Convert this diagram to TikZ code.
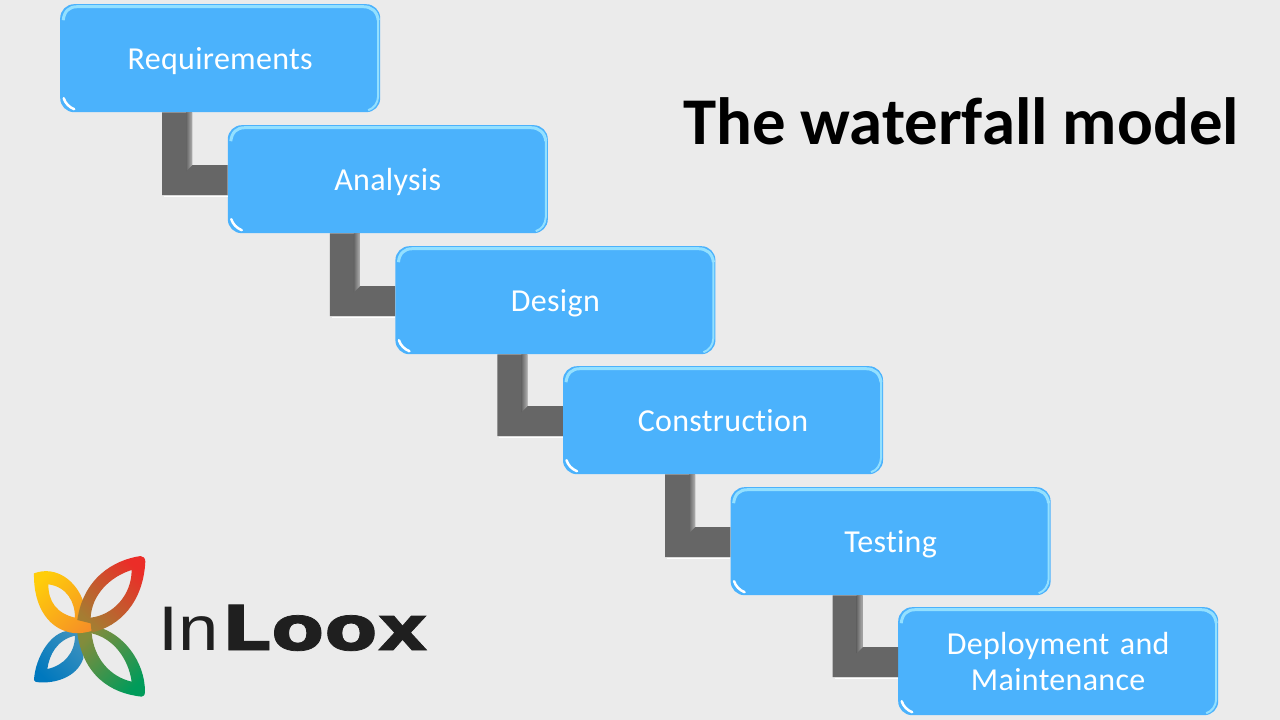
\documentclass[tikz,border=0pt]{standalone}
\usepackage{fontspec}
\usetikzlibrary{calc}
\setmainfont{Carlito}
\newfontfamily\boxfont{Carlito}[LetterSpace=1,Ligatures=NoCommon]
\newfontfamily\logothin{Liberation Sans}
\newfontfamily\logoheavy{DejaVu Sans}[BoldFeatures={FakeBold=1.2}]
\definecolor{pagebg}{HTML}{EBEBEB}
\definecolor{boxblue}{HTML}{4BB2FC}
\definecolor{boxlight}{HTML}{93E0FF}
\definecolor{pipegray}{HTML}{666666}
\definecolor{pipelight}{HTML}{B0B0B0}
\tikzset{
  stagebox/.style={rounded corners=14pt, fill=boxblue, minimum width=320pt, minimum height=108pt,
    inner sep=0pt, anchor=north west, text=white, align=center, font=\boxfont\fontsize{32}{36}\selectfont,
    path picture={
      \coordinate (nw) at (path picture bounding box.north west);
      \coordinate (se) at (path picture bounding box.south east);
      \coordinate (ne) at (nw -| se);
      \coordinate (sw) at (nw |- se);
      \draw[boxlight, line width=3pt, sharp corners]
        ($(nw)+(3,16)$) .. controls ($(nw)+(4,7)$) and ($(nw)+(9,2.5)$) .. ($(nw)+(17,2.5)$)
        -- ($(ne)+(-17,2.5)$) .. controls ($(ne)+(-9,2.5)$) and ($(ne)+(-3,7)$) .. ($(ne)+(-2,16)$);
      \draw[boxlight, line width=2pt, sharp corners]
        ($(ne)+(-2,14)$) -- ($(se)+(-2,-16)$) .. controls ($(se)+(-2.5,-9)$) and ($(se)+(-6,-4)$) .. ($(se)+(-12,-2)$);
      \draw[white, line width=2.5pt, line cap=round, sharp corners]
        ($(sw)+(3.5,-14)$) .. controls ($(sw)+(5,-9)$) and ($(sw)+(9,-5)$) .. ($(sw)+(14,-3)$);
    }},
  oneline/.style={text height=22pt, text depth=0pt},
  pipeshadow/.style={white, line width=1.2pt},
  logotext/.style={inner sep=0pt, anchor=base west, text=black!88}
}
\newcommand{\stair}[2]{% from the lower edge of one box to the left edge of the next
  \coordinate (pa) at ($(#1.south west)+(102.2,0)$);
  \coordinate (pb) at ($(#1.south west)+(132.2,0)$);
  \coordinate (pc) at ($(pb |- #2.west)+(0,-14)$);
  \coordinate (pd) at ($(#2.west)+(0,-14)$);
  \coordinate (pe) at ($(#2.west)+(0,16)$);
  \coordinate (pf) at ($(pa |- #2.west)+(0,16)$);
  \fill[pipegray] (pa) -- (pb) -- (pc) -- (pd) -- (pe) -- (pf) -- cycle;
  \shade[left color=pipegray, right color=pipelight, shading angle=90] ($(pb)+(-6,0)$) -- (pb) -- (pc) -- ($(pc)+(-6,6)$) -- cycle;
  \draw[pipeshadow] ($(pf)+(2,1)$) -- ($(pe)+(0,1)$);
}
\begin{document}
\begin{tikzpicture}[x=1pt,y=-1pt]
\useasboundingbox (0,0) rectangle (1280,720);
\fill[pagebg] (0,0) rectangle (1280,720);
\node[stagebox,oneline] (req) at (60,4) {Requirements};
\node[stagebox,oneline] (ana) at (227.6,125) {Analysis};
\node[stagebox,oneline] (des) at (395.2,246) {Design};
\node[stagebox,oneline] (con) at (562.8,366) {Construction};
\node[stagebox,oneline] (tes) at (730.4,487) {Testing};
\node[stagebox] (dep) at (898,607) {Deployment\hspace{3pt} and\\Maintenance};
\stair{req}{ana}
\stair{ana}{des}
\stair{des}{con}
\stair{con}{tes}
\stair{tes}{dep}
\node[inner sep=0pt, anchor=base west, font=\fontsize{66.8}{72}\selectfont\bfseries] (title) at (683,144.5) {The waterfall model};
% logo
\begin{scope}[shift={(20,545)},x=0.3333pt,y=-0.3333pt]
\shade[even odd rule, top color={rgb,255:red,60;green,145;blue,190}, middle color={rgb,255:red,0;green,122;blue,190}, bottom color={rgb,255:red,0;green,120;blue,190}, shading angle=-45]
  (42,405) .. controls (45,340) and (95,245) .. (165,258) -- (190,262) -- (190,340) .. controls (170,400) and (100,415) .. (60,412) .. controls (50,412) and (42,410) .. (42,405) -- cycle
  (165,272) .. controls (110,285) and (88,330) .. (82,372) .. controls (130,362) and (165,325) .. (165,272) -- cycle;
\shade[even odd rule, top color={rgb,255:red,130;green,140;blue,60}, middle color={rgb,255:red,20;green,150;blue,85}, bottom color={rgb,255:red,0;green,155;blue,90}, shading angle=45]
  (230,245) .. controls (310,265) and (375,350) .. (375,440) .. controls (375,450) and (370,455) .. (365,455) .. controls (270,445) and (190,390) .. (172,265) -- cycle
  (215,265) .. controls (280,280) and (325,340) .. (335,410) .. controls (270,395) and (222,340) .. (215,265) -- cycle;
\shade[even odd rule, top color={rgb,255:red,255;green,205;blue,10}, bottom color={rgb,255:red,245;green,140;blue,40}, shading angle=45]
  (42,85) .. controls (110,60) and (170,110) .. (190,170) -- (212,225) -- (270,226) -- (215,258) .. controls (190,265) and (170,265) .. (160,264) .. controls (90,255) and (40,190) .. (42,85) -- cycle
  (85,118) .. controls (140,125) and (165,170) .. (165,218) .. controls (110,205) and (85,170) .. (85,118) -- cycle;
\shade[even odd rule, top color={rgb,255:red,165;green,125;blue,50}, middle color={rgb,255:red,225;green,60;blue,40}, bottom color={rgb,255:red,235;green,45;blue,40}, shading angle=135]
  (362,33) .. controls (280,45) and (190,100) .. (172,225) -- (212,235) -- (215,262) .. controls (300,245) and (370,170) .. (376,50) .. controls (376,40) and (370,33) .. (362,33) -- cycle
  (335,75) .. controls (270,95) and (215,150) .. (212,218) .. controls (280,210) and (335,150) .. (335,75) -- cycle;
\end{scope}
\node[logotext, font=\logothin\fontsize{63}{63}\selectfont, xscale=1.15] (logoin) at (158,650) {In};
\node[logotext, font=\logoheavy\bfseries\fontsize{62}{62}\selectfont, xscale=1.25] (logoloox) at (221.5,650) {Loox};
\end{tikzpicture}
\end{document}
